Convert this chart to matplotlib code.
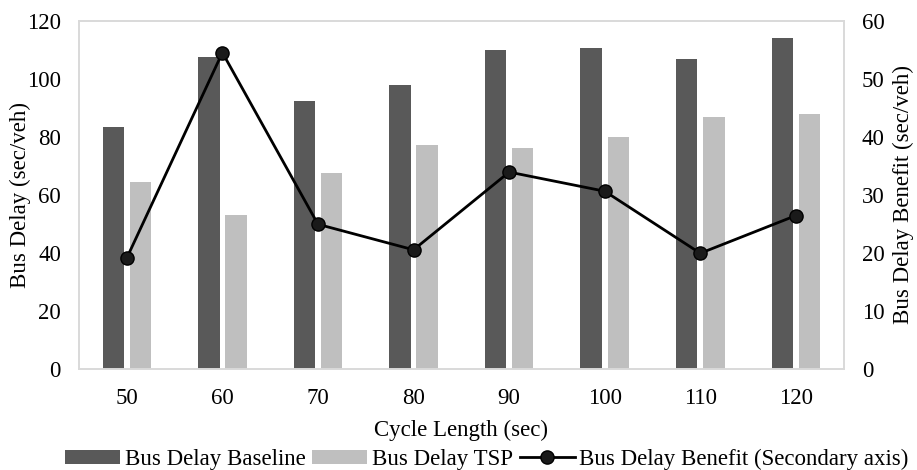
import matplotlib
matplotlib.use("Agg")
import matplotlib.pyplot as plt
import numpy as np

categories = ["50", "60", "70", "80", "90", "100", "110", "120"]
baseline = [83.3, 107.5, 92.2, 97.7, 109.9, 110.5, 106.7, 113.9]
tsp = [64.3, 52.9, 67.4, 77.2, 76.1, 79.9, 86.9, 87.7]
benefit = [19.1, 54.5, 24.9, 20.5, 33.9, 30.6, 19.9, 26.4]

plt.rcParams['font.family'] = ['Liberation Serif', 'DejaVu Serif']
FS = 16.5

fig = plt.figure(figsize=(9.17, 4.70), dpi=100)
ax = fig.add_axes([0.0862, 0.2155, 0.920 - 0.0862, 0.956 - 0.2155])
ax2 = ax.twinx()

x = np.arange(len(categories))
w = 0.225
off = 0.142
b1 = ax.bar(x - off, baseline, width=w, color='#595959', label='Bus Delay Baseline', zorder=2)
b2 = ax.bar(x + off, tsp, width=w, color='#bfbfbf', label='Bus Delay TSP', zorder=2)
l1, = ax2.plot(x, benefit, color='black', lw=2.0, marker='o', markersize=9.5,
               markerfacecolor='#1a1a1a', markeredgecolor='black',
               label='Bus Delay Benefit (Secondary axis)')

ax.set_xlim(-0.5, len(categories) - 0.5)
ax.set_ylim(0, 120)
ax2.set_ylim(0, 60)
ax.set_yticks(np.arange(0, 121, 20))
ax2.set_yticks(np.arange(0, 61, 10))
ax.set_xticks(x)
ax.set_xticklabels(categories)

for a in (ax, ax2):
    a.tick_params(axis='both', length=0, labelsize=FS, colors='black')
    for s in a.spines.values():
        s.set_color('#d9d9d9')
        s.set_linewidth(1.2)
ax.tick_params(axis='x', pad=14)
ax.tick_params(axis='y', pad=13)
ax2.tick_params(axis='y', pad=13)

ax.set_ylabel('Bus Delay (sec/veh)', fontsize=FS, labelpad=-3)
ax2.set_ylabel('Bus Delay Benefit (sec/veh)', fontsize=FS, labelpad=6)
ax.set_xlabel('Cycle Length (sec)', fontsize=FS, labelpad=8)

fig.legend(handles=[b1, b2, l1], loc='lower center', bbox_to_anchor=(0.531, -0.044),
           ncol=3, frameon=False, fontsize=FS, handlelength=2.4, handleheight=0.6,
           handletextpad=0.2, columnspacing=0.3)

fig.savefig('out.png', dpi=100)
